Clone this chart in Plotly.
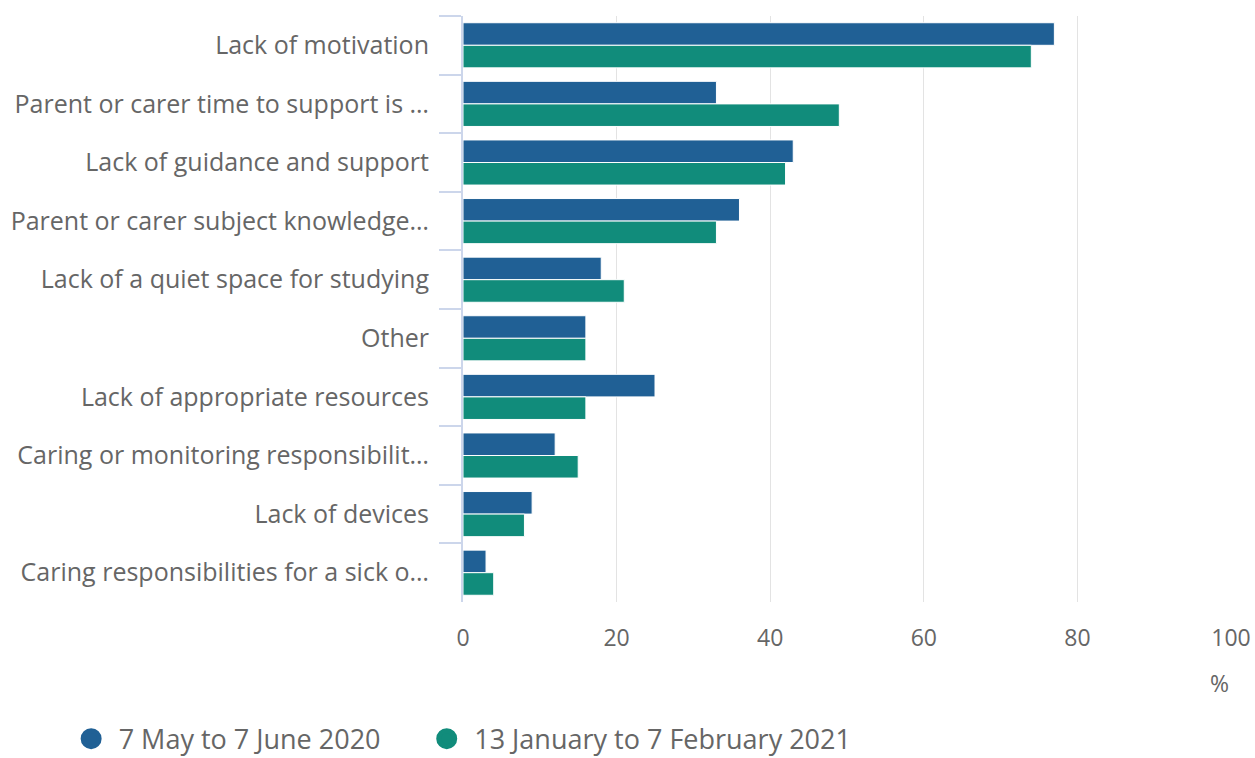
import plotly.graph_objects as go

categories = [
    "Lack of motivation",
    "Parent or carer time to support is …",
    "Lack of guidance and support",
    "Parent or carer subject knowledge…",
    "Lack of a quiet space for studying",
    "Other",
    "Lack of appropriate resources",
    "Caring or monitoring responsibilit…",
    "Lack of devices",
    "Caring responsibilities for a sick o…",
]
series_names = ["7 May to 7 June 2020", "13 January to 7 February 2021"]
values_2020 = [77, 33, 43, 36, 18, 16, 25, 12, 9, 3]
values_2021 = [74, 49, 42, 33, 21, 16, 16, 15, 8, 4]
colors = ["#206095", "#118C7B"]
x_ticks = [0, 20, 40, 60, 80, 100]

FONT = "Open Sans"
TXT = "#666666"

fig = go.Figure()
for name, vals, col in zip(series_names, [values_2020, values_2021], colors):
    fig.add_trace(go.Bar(
        y=categories, x=vals, name=name, orientation="h",
        marker=dict(color=col, line=dict(color="white", width=1)),
        showlegend=False, hoverinfo="x+y",
    ))
# legend proxies with circular symbols (one per legend box)
for name, col, lg in zip(series_names, colors, ["legend", "legend2"]):
    fig.add_trace(go.Scatter(
        x=[None], y=[None], mode="markers", name=name, legend=lg,
        marker=dict(color=col, size=27, symbol="circle",
                    line=dict(color=col, width=5)),
    ))

legend_common = dict(orientation="h", xanchor="left", y=-0.234, yanchor="middle",
                     font=dict(size=27, color=TXT), itemsizing="trace", itemwidth=45,
                     bgcolor="rgba(0,0,0,0)")

fig.update_layout(
    width=1255, height=758,
    margin=dict(l=463, r=24, t=16, b=156, autoexpand=False),
    paper_bgcolor="white", plot_bgcolor="white",
    font=dict(family=FONT, color=TXT, size=23),
    barmode="group", bargap=0.23, bargroupgap=0,
    showlegend=True,
    legend=dict(x=-0.52, **legend_common),
    legend2=dict(x=-0.057, **legend_common),
    xaxis=dict(range=[0, 100], tickvals=x_ticks, showgrid=True, gridcolor="#e3e3e3",
               gridwidth=1, zeroline=False, showline=False, ticks="",
               ticklabelstandoff=20,
               tickfont=dict(size=23, color=TXT), fixedrange=True),
    yaxis=dict(type="category", categoryorder="array", categoryarray=categories,
               autorange="reversed", tickson="boundaries", ticks="outside",
               ticklen=22, tickcolor="#ccd6eb", tickwidth=2, showline=True,
               linecolor="#ccd6eb", linewidth=2, showgrid=False,
               ticklabelstandoff=27, tickfont=dict(size=25, color=TXT)),
    annotations=[dict(text="%", xref="paper", yref="paper", x=1, y=-0.138,
                      xanchor="right", yanchor="middle", showarrow=False,
                      font=dict(size=23, color=TXT))],
)

fig.write_html("out.html")
